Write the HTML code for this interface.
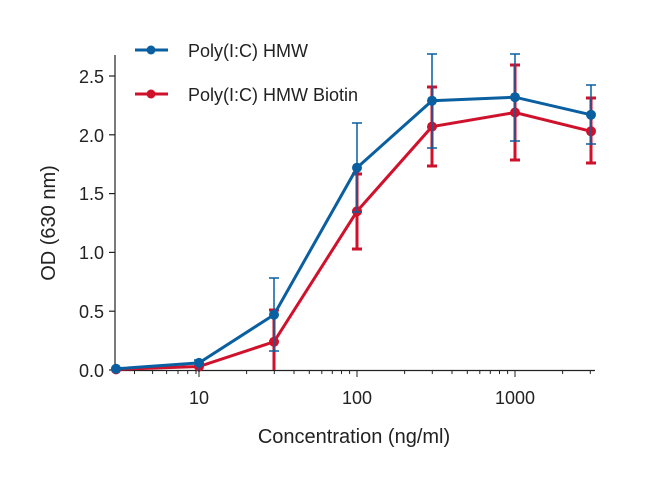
<!DOCTYPE html><html><head><style>body{margin:0;background:#fff}svg{display:block;font-family:"Liberation Sans",Arial,sans-serif}</style></head><body>
<svg width="650" height="478" viewBox="0 0 650 478">
<g stroke="#222" stroke-width="1.2" fill="none">
<line x1="115" y1="55" x2="115" y2="371"/>
<line x1="115" y1="370.5" x2="595" y2="370.5"/>
<line x1="109" y1="370" x2="115" y2="370"/><line x1="109" y1="311.2" x2="115" y2="311.2"/><line x1="109" y1="252.4" x2="115" y2="252.4"/><line x1="109" y1="193.6" x2="115" y2="193.6"/><line x1="109" y1="134.8" x2="115" y2="134.8"/><line x1="109" y1="76" x2="115" y2="76"/>
</g>
<g stroke="#222" stroke-width="1" id="tk"></g>
<g font-size="18" fill="#222" text-anchor="end">
<text x="104" y="377">0.0</text><text x="104" y="318">0.5</text><text x="104" y="259">1.0</text><text x="104" y="200">1.5</text><text x="104" y="142">2.0</text><text x="104" y="83">2.5</text>
</g>
<g font-size="18" fill="#222" text-anchor="middle">
<text x="199" y="404">10</text><text x="357" y="404">100</text><text x="515" y="404">1000</text>
<text x="354" y="443" font-size="20">Concentration (ng/ml)</text>
<text transform="translate(55,223) rotate(-90)" font-size="20">OD (630 nm)</text>
</g>
<g font-size="18" fill="#222"><text x="188" y="57">Poly(I:C) HMW</text><text x="188" y="101">Poly(I:C) HMW Biotin</text></g>
<line x1="135" y1="50" x2="168" y2="50" stroke="#0a5fa0" stroke-width="3"/><circle cx="151" cy="50" r="4.5" fill="#0a5fa0"/>
<line x1="135" y1="94" x2="168" y2="94" stroke="#d0112b" stroke-width="3"/><circle cx="151" cy="94" r="4.5" fill="#d0112b"/>
<g stroke="#d0112b" stroke-width="3" fill="none">
<path d="M274 370V310M269 310h10M357 249V174M352 249h10M352 174h10M432 166V87M427 166h10M427 87h10M515 160V65M510 160h10M510 65h10M591 163V98M586 163h10M586 98h10"/>
<polyline points="116,369.4 199,366.5 274,341.8 357,211.3 432,126.6 515,112.5 591,131.3"/>
</g>
<g fill="#d0112b"><circle cx="116" cy="369.4" r="5"/><circle cx="199" cy="366.5" r="5"/><circle cx="274" cy="341.8" r="5"/><circle cx="357" cy="211.3" r="5"/><circle cx="432" cy="126.6" r="5"/><circle cx="515" cy="112.5" r="5"/><circle cx="591" cy="131.3" r="5"/></g>
<g stroke="#0a5fa0" stroke-width="1.5" fill="none">
<path d="M199 360V372M194 360h10M274 351V278M269 351h10M269 278h10M357 212V123M352 212h10M352 123h10M432 148V54M427 148h10M427 54h10M515 141V54M510 141h10M510 54h10M591 144V85M586 144h10M586 85h10"/>
</g>
<polyline points="116,368.8 199,362.9 274,314.7 357,167.7 432,100.7 515,97.2 591,114.8" stroke="#0a5fa0" stroke-width="3" fill="none"/>
<g fill="#0a5fa0"><circle cx="116" cy="368.8" r="5"/><circle cx="199" cy="362.9" r="5"/><circle cx="274" cy="314.7" r="5"/><circle cx="357" cy="167.7" r="5"/><circle cx="432" cy="100.7" r="5"/><circle cx="515" cy="97.2" r="5"/><circle cx="591" cy="114.8" r="5"/></g>
<g stroke="#222" stroke-width="1">
<path d="M134.5 370v4M152.6 370v4M166.6 370v4M178 370v4M187.7 370v4M196 370v4M199 370v7M246.6 370v4M274.3 370v4M294 370v4M309.3 370v4M321.8 370v4M332.3 370v4M341.5 370v4M349.6 370v4M357 370v7M404.6 370v4M432.3 370v4M452 370v4M467.3 370v4M479.8 370v4M490.3 370v4M499.5 370v4M507.6 370v4M515 370v7M562.6 370v4M590.3 370v4"/>
</g>
</svg></body></html>
